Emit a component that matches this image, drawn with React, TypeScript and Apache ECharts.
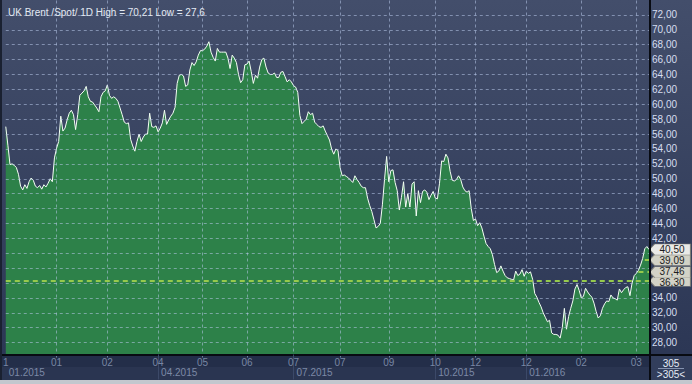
import React, { useEffect, useRef } from 'react';
import * as echarts from 'echarts';

// Daily closing values (305 sessions)
const prices: number[] = [
  57.0, 54.5, 51.9, 52.0, 51.8, 51.5, 50.6, 49.0, 48.5, 49.2,
  48.7, 49.6, 50.1, 49.8, 49.0, 48.8, 49.1, 48.6, 49.2, 48.9,
  49.4, 50.0, 49.6, 52.8, 54.1, 55.0, 58.4, 56.4, 56.8, 57.9,
  58.8, 59.2, 58.6, 56.6, 58.6, 61.2, 61.5, 61.8, 62.4, 61.0,
  60.4, 60.3, 59.9, 59.5, 59.0, 61.0, 61.6, 61.8, 62.6, 61.2,
  60.8, 61.0, 60.8, 60.4, 59.5, 58.6, 57.6, 57.4, 57.5, 55.3,
  54.4, 53.7, 55.0, 56.0, 55.0, 55.6, 56.0, 56.0, 58.8, 57.0,
  56.9, 57.1, 56.3, 56.8, 57.5, 59.2, 57.3, 57.9, 58.4, 58.8,
  59.6, 62.8, 63.9, 64.0, 63.8, 62.4, 62.6, 64.6, 65.6, 65.2,
  65.7, 66.6, 67.2, 67.2, 67.4, 67.8, 68.4, 67.0, 66.3, 65.8,
  67.5, 67.0, 67.0, 67.0, 67.0, 66.2, 64.8, 66.6, 66.2, 65.6,
  64.0, 62.9, 63.3, 65.3, 65.4, 65.8, 64.4, 62.8, 63.9, 63.5,
  65.0, 66.0, 66.2, 65.0, 64.2, 64.0, 64.0, 64.2, 63.6, 63.6,
  64.3, 64.4, 63.7, 63.0, 63.3, 63.0, 62.5, 62.3, 61.6, 58.5,
  57.4, 57.7, 58.0, 59.0, 58.6, 58.8, 57.6, 57.3, 57.0, 56.9,
  57.1, 56.4, 55.8, 55.2, 54.0, 53.3, 54.0, 53.8, 51.5, 50.4,
  50.5, 50.3, 50.1, 49.8, 49.5, 50.4, 49.9, 49.5, 49.0, 48.8,
  48.8, 47.4, 46.4, 45.6, 44.5, 43.4, 43.6, 44.0, 46.5, 49.9,
  53.0, 49.6, 51.1, 51.2, 49.5, 48.4, 45.8, 47.5, 49.6, 46.2,
  48.0, 46.2, 49.3, 49.6, 45.0, 48.4, 46.8, 48.3, 48.5, 48.2,
  47.2, 47.8, 48.3, 47.4, 47.3, 49.4, 52.4, 52.3, 53.3, 52.8,
  51.0, 49.8, 49.7, 49.9, 50.4, 49.9, 48.9, 48.4, 48.2, 48.4,
  46.0, 44.4, 44.6, 43.7, 44.1, 43.4, 42.3, 41.3, 40.9, 40.6,
  39.8, 38.5, 37.4, 37.6, 38.3, 37.6, 37.0, 36.7, 36.6, 36.5,
  36.4, 37.6, 37.0, 37.2, 37.8, 36.9, 37.6, 37.3, 37.5, 36.5,
  34.6, 34.1, 33.4, 32.8, 32.0, 31.4, 30.8, 31.0, 29.3, 29.1,
  29.1, 29.0, 28.6, 30.0, 32.6, 29.8, 31.5, 32.6, 33.6, 35.2,
  35.8, 35.0, 34.0, 34.2, 35.3, 34.8, 34.4, 34.1, 33.3, 32.2,
  31.3, 31.6, 32.6, 33.2, 33.6, 33.5, 34.4, 34.0, 33.9, 33.7,
  35.2, 34.7, 35.1, 35.4, 35.5, 34.3, 36.0, 37.0, 37.3, 37.7,
  38.4, 39.3, 40.6, 40.9, 40.5,
];

// Month tick positions (session index) and their labels
const monthTickIdx: number[] = [0, 24, 48, 72, 93, 114, 136, 158, 181, 203, 222, 246, 272, 298];
const monthTickLabels: string[] = ['1', '01', '02', '04', '05', '06', '07', '07', '09', '10', '12', '12', '02', '03'];

// Quarter boundaries and labels
const quarterIdx: number[] = [0, 72, 136, 203, 246];
const quarterLabels: string[] = ['01.2015', '04.2015', '07.2015', '10.2015', '01.2016'];

// Indicator levels and the session where each drawn segment starts
const levelValues: number[] = [36.30, 37.46, 39.09];
const levelStartIdx: number[] = [0, 299, 302];

const titleText = 'UK Brent /Spot/ 1D High = 70,21 Low = 27,6';

// y-axis scale
const yMin = 26;
const yMax = 74;
const yStep = 2;

const FONT = '"Liberation Sans", Arial, sans-serif';
const fmt = (v: number) => v.toFixed(2).replace('.', ',');

export default function App() {
  const ref = useRef<HTMLDivElement>(null);

  useEffect(() => {
    const chart = echarts.init(ref.current!, null, { renderer: 'svg' });
    const n = prices.length;
    const last = n - 1;
    const cats = prices.map((_, i) => String(i));
    const monthSet = new Set(monthTickIdx);
    const quarterSet = new Set(quarterIdx);
    const monthMap: Record<number, string> = {};
    monthTickIdx.forEach((i, k) => (monthMap[i] = monthTickLabels[k]));
    const quarterMap: Record<number, string> = {};
    quarterIdx.forEach((i, k) => (quarterMap[i] = quarterLabels[k]));

    const gridStyle = { color: '#b8c8ea', width: 1, type: [3, 3], opacity: 0.55 };
    const levelStyle = { color: '#96c94c', width: 2, type: [5, 4], opacity: 1 };

    // grid lines: one per y tick and one per month tick
    const yTicks: number[] = [];
    for (let v = yMin + yStep; v < yMax; v += yStep) yTicks.push(v);
    const gridLineData: any[] = [
      ...yTicks.map((v) => ({ yAxis: v, lineStyle: gridStyle })),
      ...monthTickIdx.filter((i) => i !== 0).map((i) => ({ xAxis: i, lineStyle: gridStyle })),
    ];

    const levelLineData: any[] = levelValues.map((v, k) =>
      levelStartIdx[k] === 0
        ? { yAxis: v, lineStyle: levelStyle }
        : [{ coord: [levelStartIdx[k], v], lineStyle: levelStyle }, { coord: [last, v] }]
    );

    const tagValues = [...levelValues, prices[last]];
    const markPointData = tagValues.map((v, k) => ({
      coord: [last, v],
      value: v,
      itemStyle: {
        color: k === tagValues.length - 1 ? '#e9e9e6' : '#d2d2c6',
        borderColor: '#7d7d76',
        borderWidth: 0.6,
      },
      label: { offset: [2, k === 0 ? 1.5 : k === 1 ? -0.5 : 0] },
    }));
    // axis labels hidden behind a value tag
    const coveredByTag = (v: number) => tagValues.some((t) => Math.abs(t - v) < 0.9);

    const option: any = {
      animation: false,
      textStyle: { fontFamily: FONT },
      title: {
        text: titleText,
        left: 3,
        top: 2,
        textStyle: { color: '#e3e9f3', fontSize: 10, fontWeight: 'normal', fontFamily: FONT },
      },
      grid: { left: 4, right: 43, top: -1.5, bottom: 26.5, containLabel: false },
      xAxis: [
        {
          type: 'category',
          data: cats,
          boundaryGap: false,
          position: 'bottom',
          axisLine: { show: false, onZero: false },
          axisTick: { show: false },
          axisLabel: { show: false },
          splitLine: { show: false },
        },
        {
          type: 'category',
          data: cats,
          boundaryGap: false,
          position: 'bottom',
          offset: -3,
          z: 10,
          axisLine: { show: false, onZero: false },
          axisTick: { show: false },
          splitLine: { show: false },
          axisLabel: {
            show: true,
            interval: (i: number) => monthSet.has(i),
            formatter: (_v: string, i: number) => monthMap[i] ?? '',
            color: '#7886a3',
            fontSize: 10,
            fontFamily: FONT,
            margin: 3,
          },
        },
        {
          type: 'category',
          data: cats,
          boundaryGap: false,
          position: 'bottom',
          offset: -3,
          z: 10,
          axisLine: { show: false, onZero: false },
          axisTick: {
            show: true,
            interval: (i: number) => quarterSet.has(i) && i !== 0,
            length: 25,
            lineStyle: { color: '#3c4968', width: 1 },
          },
          splitLine: { show: false },
          axisLabel: {
            show: true,
            interval: (i: number) => quarterSet.has(i),
            formatter: (_v: string, i: number) => quarterMap[i] ?? '',
            align: 'left',
            padding: [0, 0, 0, 3],
            color: '#7c89a6',
            fontSize: 10,
            fontFamily: FONT,
            margin: 13,
          },
        },
      ],
      yAxis: [
        {
          type: 'value',
          min: yMin,
          max: yMax,
          interval: yStep,
          position: 'right',
          axisLine: { show: false },
          axisTick: { show: false },
          splitLine: { show: false },
          axisLabel: {
            show: true,
            margin: 3,
            color: '#d6def0',
            fontSize: 10,
            fontFamily: FONT,
            formatter: (v: number) => (v <= yMin || v >= yMax || coveredByTag(v) ? '' : fmt(v)),
          },
        },
      ],
      series: [
        {
          type: 'line',
          data: prices,
          symbol: 'none',
          z: 2,
          silent: true,
          lineStyle: { color: '#f4fff4', width: 1 },
          areaStyle: { color: '#2d8149', opacity: 1 },
        },
        {
          type: 'line',
          data: prices,
          symbol: 'none',
          z: 20,
          silent: true,
          lineStyle: { opacity: 0 },
          markLine: {
            silent: true,
            symbol: ['none', 'none'],
            label: { show: false },
            lineStyle: levelStyle,
            data: [...gridLineData, ...levelLineData],
          },
          markPoint: {
            silent: true,
            symbol: 'path://M0,5L5,0L40,0L40,10L5,10Z',
            symbolSize: [41, 11],
            symbolOffset: [21, 0],
            label: {
              show: true,
              position: 'inside',
              color: '#1d1d1d',
              fontSize: 10,
              lineHeight: 8,
              fontFamily: FONT,
              formatter: (p: any) => fmt(p.value),
            },
            data: markPointData,
          },
        },
      ],
      graphic: {
        elements: [
          { type: 'rect', z: 5, silent: true, shape: { x: 0, y: 356, width: 692, height: 24 }, style: { fill: '#232e49' } },
          { type: 'rect', z: 5, silent: true, shape: { x: 0, y: 367, width: 650, height: 13 }, style: { fill: '#2a3551' } },
          { type: 'rect', z: 5, silent: true, shape: { x: 651, y: 356, width: 41, height: 24 }, style: { fill: '#323e5c' } },
          { type: 'rect', z: 6, silent: true, shape: { x: 0, y: 380, width: 692, height: 4 }, style: { fill: '#c3c7ce' } },
          { type: 'rect', z: 6, silent: true, shape: { x: 0, y: 354, width: 692, height: 2 }, style: { fill: '#080b12' } },
          { type: 'rect', z: 6, silent: true, shape: { x: 649, y: 0, width: 2, height: 380 }, style: { fill: '#080b12' } },
          { type: 'rect', z: 6, silent: true, shape: { x: 0, y: 0, width: 2, height: 380 }, style: { fill: '#1a2131' } },
          {
            type: 'text', z: 11, x: 671, y: 363, silent: true,
            style: { text: String(n), fill: '#e6ecf6', fontSize: 10, fontFamily: FONT, align: 'center', verticalAlign: 'middle' },
          },
          { type: 'line', z: 11, silent: true, shape: { x1: 658, y1: 368.5, x2: 684, y2: 368.5 }, style: { stroke: '#8593b0', lineWidth: 1 } },
          {
            type: 'text', z: 11, x: 671, y: 374, silent: true,
            style: { text: '>' + n + '<', fill: '#e6ecf6', fontSize: 10, fontFamily: FONT, align: 'center', verticalAlign: 'middle' },
          },
        ],
      },
    };

    chart.setOption(option);
    return () => chart.dispose();
  }, []);

  return (
    <div
      ref={ref}
      style={{
        position: 'fixed',
        left: 0,
        top: 0,
        width: 692,
        height: 384,
        background: 'linear-gradient(to bottom, #434e6b, #2a3553)',
      }}
    />
  );
}
